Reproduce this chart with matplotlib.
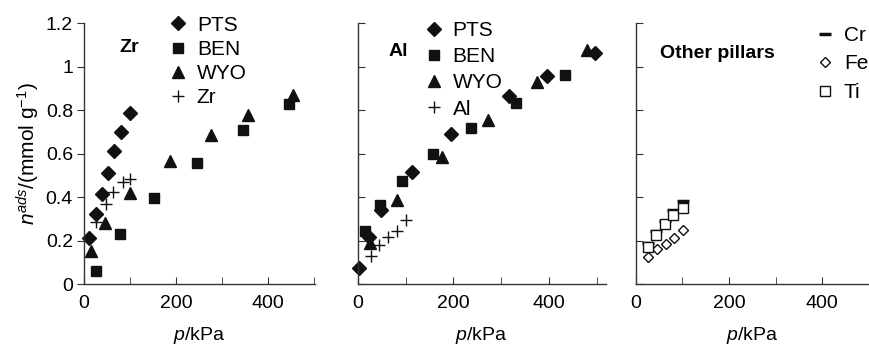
import numpy as np
import matplotlib
matplotlib.use("Agg")
import matplotlib.pyplot as plt

plt.rcParams['font.family'] = ['Liberation Sans', 'DejaVu Sans']
plt.rcParams['mathtext.fontset'] = 'custom'
plt.rcParams['mathtext.rm'] = 'Liberation Sans'
plt.rcParams['mathtext.it'] = 'Liberation Sans:italic'
plt.rcParams['font.size'] = 14

# ---- data (p in kPa, n in mmol/g) ----
zr_pts_p = [11, 26, 40, 52, 66, 81, 101]
zr_pts_n = [0.21, 0.32, 0.415, 0.51, 0.61, 0.70, 0.785]
zr_ben_p = [27, 79, 152, 245, 346, 447]
zr_ben_n = [0.062, 0.229, 0.395, 0.557, 0.708, 0.826]
zr_wyo_p = [15, 46, 101, 188, 276, 358, 454]
zr_wyo_n = [0.15, 0.28, 0.42, 0.565, 0.685, 0.775, 0.87]
zr_zr_p = [27, 47, 63, 85, 101]
zr_zr_n = [0.283, 0.369, 0.422, 0.468, 0.485]

al_pts_p = [3, 24, 48, 113, 195, 316, 395, 496]
al_pts_n = [0.072, 0.218, 0.338, 0.515, 0.689, 0.863, 0.957, 1.06]
al_ben_p = [15, 47, 93, 157, 236, 331, 433]
al_ben_n = [0.245, 0.362, 0.475, 0.60, 0.715, 0.831, 0.963]
al_wyo_p = [26, 83, 176, 273, 374, 479]
al_wyo_n = [0.19, 0.385, 0.585, 0.755, 0.93, 1.075]
al_al_p = [27, 45, 64, 83, 101]
al_al_n = [0.131, 0.18, 0.215, 0.246, 0.292]

ot_p = [27, 43, 62, 80, 101]
ot_cr_n = [0.187, 0.245, 0.29, 0.338, 0.382]
ot_fe_p = [27, 45, 64, 83, 102]
ot_fe_n = [0.123, 0.16, 0.183, 0.213, 0.249]
ot_ti_n = [0.172, 0.226, 0.276, 0.318, 0.351]

ink = '#111111'
axcol = '#333333'

fig = plt.figure(figsize=(8.69, 3.45), dpi=100)
ax1 = fig.add_axes([0.0967, 0.1768, 0.2658, 0.7565])
ax2 = fig.add_axes([0.4116, 0.1768, 0.2854, 0.7565])
ax3 = fig.add_axes([0.7315, 0.1768, 0.2685, 0.7565])

def style(ax, xmax, left_labels):
    ax.set_xlim(0, xmax)
    ax.set_ylim(0, 1.2)
    for s in ['top', 'right']:
        ax.spines[s].set_visible(False)
    for s in ['left', 'bottom']:
        ax.spines[s].set_color(axcol)
        ax.spines[s].set_linewidth(1.0)
    ax.set_xticks([0, 200, 400])
    ax.set_xticks([100, 300, 500], minor=True)
    ax.tick_params(axis='x', which='both', direction='in', length=5, color=axcol, pad=8)
    ax.set_yticks([0, 0.2, 0.4, 0.6, 0.8, 1.0, 1.2])
    if left_labels:
        ax.set_yticklabels(['0', '0.2', '0.4', '0.6', '0.8', '1', '1.2'])
        ax.tick_params(axis='y', direction='out', length=5, color=axcol, pad=3)
    else:
        ax.set_yticklabels([])
        ax.tick_params(axis='y', direction='in', length=5, color=axcol)
    ax.set_xlabel(r'$p$/kPa', labelpad=9)

style(ax1, 503, True)
style(ax2, 518, False)
style(ax3, 488, False)

ms = dict(color=ink, linestyle='none', clip_on=False)
leg = dict(loc='upper left', frameon=False, numpoints=1, handlelength=0.8,
           handletextpad=0.5, borderaxespad=0, fontsize=15)

ax1.plot(zr_pts_p, zr_pts_n, marker='D', ms=7, label='PTS', **ms)
ax1.plot(zr_ben_p, zr_ben_n, marker='s', ms=7, label='BEN', **ms)
ax1.plot(zr_wyo_p, zr_wyo_n, marker='^', ms=9, label='WYO', **ms)
ax1.plot(zr_zr_p, zr_zr_n, marker='+', ms=9, mew=1.0, label='Zr', **ms)
ax1.set_ylabel(r'$n^{ads}$/(mmol g$^{-1}$)', labelpad=3, fontsize=15)
ax1.text(0.155, 0.905, 'Zr', transform=ax1.transAxes, fontweight='bold',
         fontsize=14, va='center')
ax1.legend(bbox_to_anchor=(0.335, 1.06), labelspacing=0.25, **leg)

ax2.plot(al_pts_p, al_pts_n, marker='D', ms=7, label='PTS', **ms)
ax2.plot(al_ben_p, al_ben_n, marker='s', ms=7, label='BEN', **ms)
ax2.plot(al_wyo_p, al_wyo_n, marker='^', ms=9, label='WYO', **ms)
ax2.plot(al_al_p, al_al_n, marker='+', ms=9, mew=1.0, label='Al', **ms)
ax2.text(0.125, 0.89, 'Al', transform=ax2.transAxes, fontweight='bold',
         fontsize=14, va='center')
ax2.legend(bbox_to_anchor=(0.24, 1.04), labelspacing=0.35, **leg)

ax3.plot(ot_p, ot_cr_n, marker='_', ms=9, mew=2.5, label='Cr', **ms)
ax3.plot(ot_fe_p, ot_fe_n, marker='D', ms=5.5, mfc='white', mew=1.0, label='Fe', **ms)
ax3.plot(ot_p, ot_ti_n, marker='s', ms=6.5, mfc='white', mew=1.0, label='Ti', **ms)
ax3.text(0.35, 0.885, 'Other pillars', transform=ax3.transAxes, fontweight='bold',
         fontsize=14, ha='center', va='center')
ax3.legend(bbox_to_anchor=(0.74, 1.02), labelspacing=0.45, **leg)

fig.savefig('out.png', dpi=100)
